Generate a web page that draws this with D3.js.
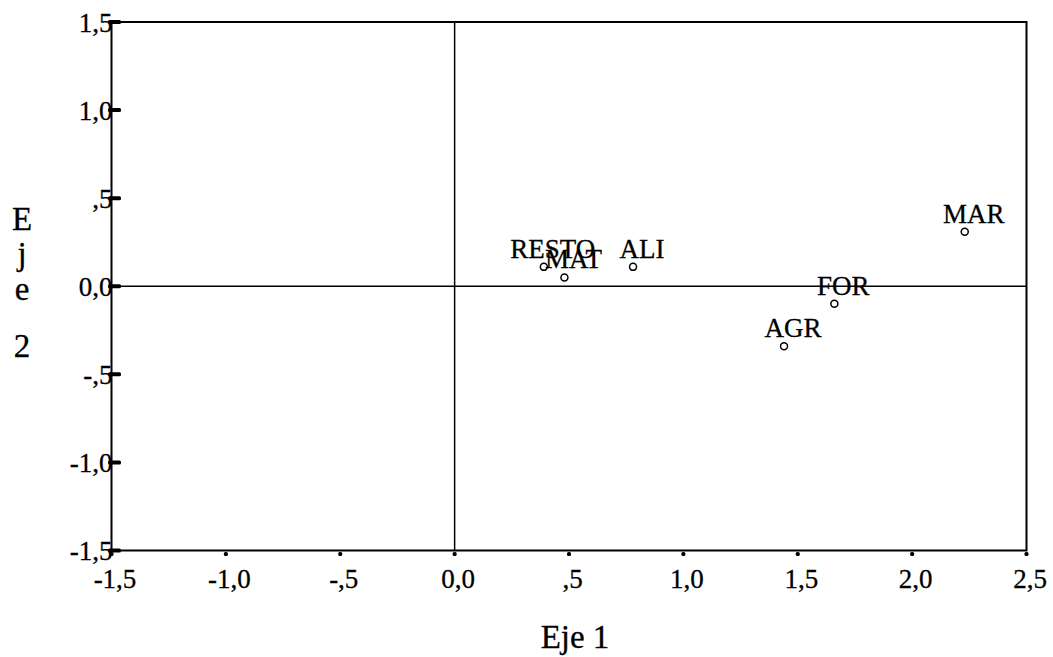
<!DOCTYPE html>
<html>
<head>
<meta charset="utf-8">
<script src="https://cdn.jsdelivr.net/npm/d3@7"></script>
<style>
  html, body { margin: 0; padding: 0; background: #fff; }
  svg { display: block; font-family: "Liberation Serif", "Times New Roman", serif; }
  svg text { fill: #000; stroke: #000; stroke-width: 0.3px; }
</style>
</head>
<body>
<svg id="chart" width="1053" height="657"></svg>
<script>
// Category points on the two dimensions
const categories = ["RESTO", "MAT", "ALI", "MAR", "FOR", "AGR"];
const eje1 = [0.39, 0.48, 0.78, 2.23, 1.66, 1.44];
const eje2 = [0.11, 0.05, 0.11, 0.31, -0.10, -0.34];

// Axis ticks and their labels (decimal comma)
const xTicks = [-1.5, -1.0, -0.5, 0.0, 0.5, 1.0, 1.5, 2.0, 2.5];
const xTickLabels = ["-1,5", "-1,0", "-,5", "0,0", ",5", "1,0", "1,5", "2,0", "2,5"];
const yTicks = [1.5, 1.0, 0.5, 0.0, -0.5, -1.0, -1.5];
const yTickLabels = ["1,5", "1,0", ",5", "0,0", "-,5", "-1,0", "-1,5"];

const xTitle = "Eje 1";
const yTitle = "Eje 2";

const svg = d3.select("#chart");
const plot = { left: 111.5, right: 1026.5, top: 22, bottom: 550.5 };

const x = d3.scaleLinear().domain([-1.5, 2.5]).range([plot.left, plot.right]);
const y = d3.scaleLinear().domain([-1.5, 1.5]).range([plot.bottom, plot.top]);

// Frame
svg.append("rect")
  .attr("x", plot.left).attr("y", plot.top)
  .attr("width", plot.right - plot.left).attr("height", plot.bottom - plot.top)
  .attr("fill", "none").attr("stroke", "#000").attr("stroke-width", 2);

// Reference lines through the origin
svg.append("line")
  .attr("x1", x(0)).attr("x2", x(0)).attr("y1", plot.top).attr("y2", plot.bottom)
  .attr("stroke", "#000").attr("stroke-width", 1.5);
svg.append("line")
  .attr("x1", plot.left).attr("x2", plot.right).attr("y1", y(0)).attr("y2", y(0))
  .attr("stroke", "#000").attr("stroke-width", 1.5);

// Bottom axis labels
const xAxis = d3.axisBottom(x)
  .tickValues(xTicks)
  .tickSize(0)
  .tickPadding(18)
  .tickFormat((d, i) => xTickLabels[i]);
const gx = svg.append("g").attr("transform", `translate(0,${plot.bottom})`).call(xAxis);
gx.select(".domain").remove();
gx.selectAll(".tick line").remove();
gx.selectAll(".tick text")
  .attr("font-size", 27)
  .attr("font-family", "Liberation Serif")
  .attr("dx", 3);

// Dot-like tick marks under the bottom edge
svg.append("g").selectAll("rect")
  .data(xTicks).join("rect")
  .attr("x", d => x(d) - 2).attr("y", plot.bottom + 1.5)
  .attr("width", 4).attr("height", 4).attr("rx", 1.5)
  .attr("fill", "#000");

// Left axis labels
const yAxis = d3.axisLeft(y)
  .tickValues(yTicks)
  .tickSize(0)
  .tickPadding(-1)
  .tickFormat((d, i) => yTickLabels[i]);
const gy = svg.append("g").attr("transform", `translate(${plot.left},0)`).call(yAxis);
gy.select(".domain").remove();
gy.selectAll(".tick line").remove();
gy.selectAll(".tick text")
  .attr("font-size", 27)
  .attr("font-family", "Liberation Serif")
  .attr("dy", "0.35em");

// Thick tick marks pointing into the plot
svg.append("g").selectAll("rect")
  .data(yTicks).join("rect")
  .attr("x", plot.left - 3.5).attr("y", d => y(d) - 2)
  .attr("width", 13).attr("height", 4).attr("rx", 1.5)
  .attr("fill", "#000");

// Points
const pts = categories.map((c, i) => ({ name: c, x: eje1[i], y: eje2[i] }));

svg.append("g").selectAll("circle")
  .data(pts).join("circle")
  .attr("cx", d => x(d.x)).attr("cy", d => y(d.y))
  .attr("r", 3.5)
  .attr("fill", "#fff").attr("stroke", "#000").attr("stroke-width", 1.5);

svg.append("g").selectAll("text")
  .data(pts).join("text")
  .attr("x", d => x(d.x) + 9).attr("y", d => y(d.y) - 9)
  .attr("text-anchor", "middle")
  .attr("font-size", 27)
  .text(d => d.name);

// Axis titles
svg.append("text")
  .attr("x", (plot.left + plot.right) / 2 + 6).attr("y", 648)
  .attr("text-anchor", "middle")
  .attr("font-size", 33)
  .text(xTitle);

// Vertical title, one character per line
const yChars = yTitle.split("");
const yLineOffsets = [0, 35, 70, 98, 127];
svg.append("g").selectAll("text")
  .data(yChars).join("text")
  .attr("x", 22).attr("y", (d, i) => 230 + yLineOffsets[i])
  .attr("text-anchor", "middle")
  .attr("font-size", 33)
  .text(d => d);
</script>
</body>
</html>
